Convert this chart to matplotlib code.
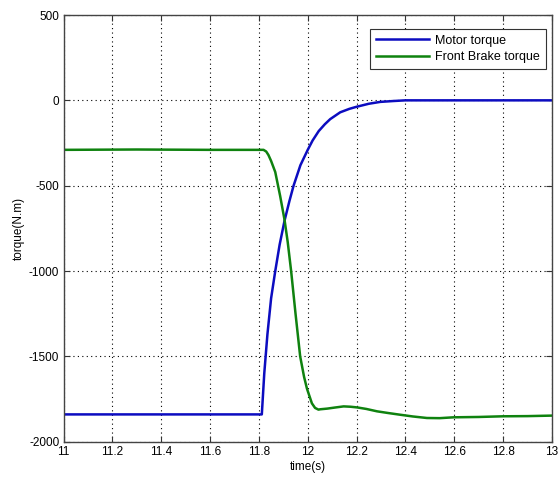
import matplotlib
matplotlib.use("Agg")
import matplotlib.pyplot as plt
import numpy as np

plt.rcParams['font.family'] = ['Liberation Sans', 'DejaVu Sans']
plt.rcParams['font.size'] = 8
plt.rcParams['axes.unicode_minus'] = False

# Motor torque (N.m) versus time (s)
motor_t = [11.0, 11.4, 11.8, 11.812, 11.822, 11.835, 11.85, 11.867, 11.885,
           11.905, 11.925, 11.942, 11.97, 12.0, 12.02, 12.045, 12.07, 12.092,
           12.133, 12.17, 12.199, 12.25, 12.297, 12.35, 12.4, 12.5, 12.7, 13.0]
motor_v = [-1840, -1840, -1840, -1840, -1600, -1370, -1160, -1000, -845,
           -705, -590, -500, -380, -290, -235, -180, -140, -110,
           -70, -50, -38, -20, -9, -4, 0, 0, 0, 0]

# Front brake torque (N.m) versus time (s)
brake_t = [11.0, 11.3, 11.6, 11.819, 11.83, 11.839, 11.85, 11.867, 11.887,
           11.905, 11.918, 11.932, 11.95, 11.969, 11.985, 11.997,
           12.017, 12.03, 12.044, 12.051, 12.08, 12.11, 12.147, 12.175, 12.202,
           12.24, 12.284, 12.33, 12.379, 12.43, 12.488, 12.54, 12.597, 12.7,
           12.8, 12.9, 13.0]
brake_v = [-290, -288, -290, -290, -300, -320, -355, -420, -560,
           -700, -830, -1000, -1250, -1500, -1620, -1690,
           -1775, -1802, -1812, -1810, -1806, -1800, -1793, -1795, -1799,
           -1808, -1822, -1832, -1842, -1852, -1861, -1862, -1857, -1855,
           -1851, -1850, -1847]

x_ticks = np.round(np.arange(11.0, 13.01, 0.2), 1)
x_tick_labels = ['11', '11.2', '11.4', '11.6', '11.8', '12', '12.2', '12.4',
                 '12.6', '12.8', '13']
y_ticks = [-2000, -1500, -1000, -500, 0, 500]

fig = plt.figure(figsize=(5.58, 4.78), dpi=100)
ax = fig.add_axes([0.1138, 0.0759, 0.8754, 0.8927])

ax.plot(motor_t, motor_v, color='#0c0cc0', lw=1.8, label='Motor torque')
ax.plot(brake_t, brake_v, color='#0f820f', lw=1.8, label='Front Brake torque')

ax.set_xlim(11, 13)
ax.set_ylim(-2000, 500)
ax.set_xticks(x_ticks)
ax.set_xticklabels(x_tick_labels)
ax.set_yticks(y_ticks)
ax.grid(True, linestyle=(0, (1, 3)), color='black', lw=0.8)
ax.tick_params(direction='in', length=4, top=True, right=True, pad=3,
               colors='#333333', labelcolor='black', labelsize=8.5)
for s in ax.spines.values():
    s.set_color('#444444')
    s.set_linewidth(1.0)

ax.set_xlabel('time(s)', fontsize=8.5, labelpad=2)
ax.set_ylabel('torque(N.m)', fontsize=8.5, labelpad=3)

leg = ax.legend(loc='upper right', bbox_to_anchor=(0.993, 0.974), fontsize=9,
                handlelength=4.2, handletextpad=0.5, borderpad=0.5,
                labelspacing=0.35, borderaxespad=0.2, fancybox=False,
                framealpha=1.0, edgecolor='#333333')
leg.get_frame().set_linewidth(0.8)

fig.savefig('out.png', dpi=100)
